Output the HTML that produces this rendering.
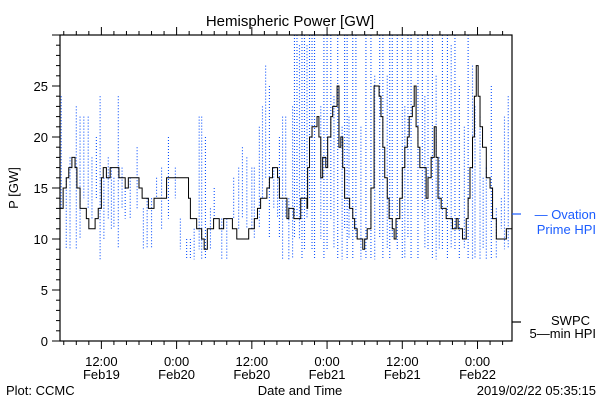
<!DOCTYPE html>
<html><head><meta charset="utf-8"><style>
body{margin:0;background:#fff}
svg{display:block;font-family:"Liberation Sans",sans-serif}
</style></head><body>
<svg id="c" width="600" height="400" viewBox="0 0 600 400">
<text x="290" y="26" font-size="15" text-anchor="middle">Hemispheric Power [GW]</text>
<text transform="translate(18,188) rotate(-90)" font-size="13" text-anchor="middle">P [GW]</text>
<text x="300" y="395" font-size="13" text-anchor="middle">Date and Time</text>
<text x="6" y="395" font-size="13">Plot: CCMC</text>
<text x="596" y="395" font-size="13" text-anchor="end">2019/02/22 05:35:15</text>
<g id="plot"></g>
<g>
<line x1="512" y1="214" x2="521" y2="214" stroke="#1a5cff" stroke-width="1.2"/>
<text x="596" y="219" font-size="13" fill="#1a5cff" text-anchor="end">— Ovation</text>
<text x="596" y="234" font-size="13" fill="#1a5cff" text-anchor="end">Prime HPI</text>
</g>
<g>
<line x1="512" y1="322" x2="521" y2="322" stroke="#000" stroke-width="1.2"/>
<text x="590" y="325" font-size="13" text-anchor="end">SWPC</text>
<text x="596" y="338" font-size="13" text-anchor="end">5—min HPI</text>
</g>
</svg>
<script>
// hours since start of window (≈05:23 Feb19)
const swpcT=[0,.5,1,1.4,1.9,2.4,2.7,3.2,3.7,4.2,4.6,5.1,5.6,6.1,6.6,6.9,7.4,8,9,9.4,9.8,10.4,10.9,12,12.6,13.1,13.6,14.1,14.6,15,16,17,20,20.5,20.8,21.8,22.6,23,23.5,24,24.5,25,25.4,26.1,27,27.5,28.2,29.4,30.1,31,31.5,32,33,33.4,33.9,34.4,34.7,35,35.7,36.2,36.5,37,37.3,37.9,38.4,38.9,39.4,39.5,39.8,40.2,40.5,41,41.3,41.6,41.9,42.4,42.7,43.2,43.5,43.8,44.2,44.5,44.8,45.1,45.4,45.9,46.2,46.7,47,47.4,48.3,48.6,49,49.3,49.6,50.1,50.4,50.9,51.2,51.5,51.8,52.2,52.5,53,53.3,53.6,53.9,54.2,54.6,55,55.4,55.7,56.2,56.5,56.8,57.1,57.4,58.1,58.4,58.7,59.2,59.7,60,60.3,60.8,61.3,61.6,62.2,62.6,62.9,63.2,63.5,64.2,64.5,64.8,65.1,65.4,65.8,66.1,66.4,66.7,67,67.4,67.7,68,68.3,68.6,69,69.6,69.9,71.2,72.1];
const swpcP=[13,15,16,17,18,17,15,13,13,12,11,11,12,13,16,17,16,17,17,16,16,15,16,16,15,14,14,13,13,14,14,16,16,14,12,11,10,9,11,11,12,12,11,12,12,11,10,10,11,12,13,14,15,16,17,17,16,14,14,12,13,13,12,12,14,14,13,17,20,21,21,22,20,16,18,17,20,22,23,23,25,19,20,17,14,14,13,12,11,10,9,10,11,11,15,25,25,24,22,19,16,14,12,11,10,12,12,14,17,19,20,22,23,25,21,19,17,17,14,16,18,21,18,14,13,13,12,12,11,11,12,11,10,10,12,14,17,20,24,27,24,21,19,19,16,16,15,12,10,10,11,10,10,10];
const ovT=[.2,1,1.6,2.6,3.2,3.8,4.5,5.1,5.8,6.4,7,7.7,8.2,8.6,9.3,9.9,10.4,11.2,12.3,13.3,13.9,14.6,15.4,16.2,17.3,18.4,19.2,20.2,20.8,21.4,22.2,22.6,23.2,24,24.6,25.8,26.6,27.7,28.5,29.1,29.8,30.6,31,31.8,32.3,32.8,33.4,34.1,34.7,35,35.5,36,36.5,37.1,37.4,37.8,38.2,38.6,39,39.4,39.8,40.2,40.6,41.6,42.1,42.6,43.2,43.7,44.3,45,45.4,45.8,46.1,46.7,47.2,48,48.8,49.6,50.2,51,51.5,52.2,52.6,53,53.8,54.6,55,55.5,56,57.1,57.8,58.2,58.7,59.4,60,60.5,61,61.8,62.4,63,63.7,64.5,65.1,65.8,66.2,67,67.5,68,68.8,69.6,70.4,70.9,71.5];
const ovHigh=[24,16,18,23,22,22,22,18,20,24,16,18,17,16,24,17,15,16,19,13,14,14,16,17,20,17,12,10,10,11,22,22,20,13,15,12,12,16,17,19,18,17,17,21,23,27,25,17,17,20,22,22,14,23,31,30,29,31,30,29,30,30,30,23,30,30,30,24,30,21,30,30,22,30,30,21,30,30,26,30,30,26,30,30,30,30,23,30,30,30,30,24,30,30,26,18,30,30,29,30,25,21,30,27,23,22,16,17,25,13,14,22,24];
const ovLow=[13,9,9,9,10,14,13,12,14,8,10,12,11,11,9,13,12,12,13,9,9,9,14,11,12,14,9,8,8,8,9,8,8,9,12,8,8,12,11,12,11,11,10,11,14,16,10,13,12,10,8,12,8,8,10,12,10,8,9,12,14,9,8,10,8,9,12,9,8,8,11,8,10,8,10,8,8,8,8,10,8,9,8,10,9,8,8,10,8,8,12,9,9,8,8,9,9,8,9,9,8,9,8,8,8,8,9,8,8,8,11,9,9];
const yTicks=[0,5,10,15,20,25];
const xTickHours=[6.6,18.6,30.6,42.6,54.6,66.6];
const xTickTop=["12:00","0:00","12:00","0:00","12:00","0:00"];
const xTickBot=["Feb19","Feb20","Feb20","Feb21","Feb21","Feb22"];
const X0=60,X1=512,Y0=341,Y1=35,TMAX=72.1,PMAX=30;
const sx=t=>X0+t/TMAX*(X1-X0), sy=p=>Y0-p/PMAX*(Y0-Y1);
const NS="http://www.w3.org/2000/svg", g=document.getElementById('plot');
function mk(tag,a,parent){const e=document.createElementNS(NS,tag);for(const k in a)e.setAttribute(k,a[k]);(parent||g).appendChild(e);return e;}
for(let i=0;i<ovT.length;i++){
 const hi=Math.min(ovHigh[i],PMAX);
 const l=mk('line',{x1:sx(ovT[i]),x2:sx(ovT[i]),y1:sy(hi),y2:sy(ovLow[i]),stroke:'#0a50ff','stroke-width':1.1,'stroke-dasharray':'1 2'});
 
 
}
let d='';
for(let i=0;i<swpcT.length;i++){
 const x=sx(swpcT[i]),y=sy(swpcP[i]);
 if(i===0)d+='M'+x+','+y;else d+='H'+x+'V'+y;
}
const pl=mk('path',{d:d,fill:'none',stroke:'#000','stroke-width':1});


const fr=mk('rect',{x:X0,y:Y1,width:X1-X0,height:Y0-Y1,fill:'none',stroke:'#000','stroke-width':1.2});


for(let p=0;p<=PMAX;p++){
 const y=sy(p),maj=p%5===0;
 mk('line',{x1:X0-(maj?8:4),x2:X0,y1:y,y2:y,stroke:'#000'});
}
yTicks.forEach(v=>{
 const t=mk('text',{x:X0-12,y:sy(v)+5,'font-size':13,'text-anchor':'end'});
 t.textContent=v;
 
 
});
for(let h=xTickHours[0]-6;h<=TMAX;h+=2){
 if(h<0)continue;
 const x=sx(h),maj=xTickHours.some(m=>Math.abs(m-h)<0.01);
 mk('line',{x1:x,x2:x,y1:Y0,y2:Y0+(maj?8:4),stroke:'#000'});
 mk('line',{x1:x,x2:x,y1:Y1,y2:Y1-(maj?8:4),stroke:'#000'});
}
xTickHours.forEach((h,i)=>{
 const a=mk('text',{x:sx(h),y:366,'font-size':13,'text-anchor':'middle'});a.textContent=xTickTop[i];
 
 
 const b=mk('text',{x:sx(h),y:379,'font-size':13,'text-anchor':'middle'});b.textContent=xTickBot[i];
 
 
});
</script>
</body></html>
